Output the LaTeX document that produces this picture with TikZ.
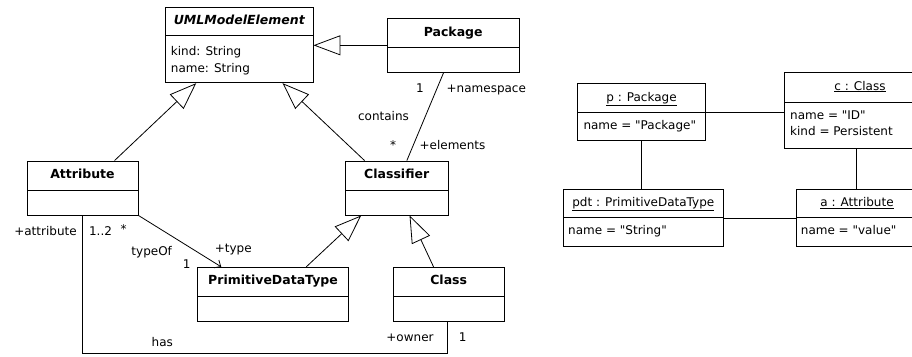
\documentclass[tikz,border=0pt]{standalone}
\usepackage{fontspec}
\setmainfont{DejaVu Sans}[Ligatures=TeXOff]
\usetikzlibrary{arrows.meta,fit,calc}

\tikzset{
  box/.style={draw, line width=0.9pt, inner sep=0pt},
  divider/.style={line width=0.9pt},
  ttl/.style={font=\fontsize{12.5}{15}\selectfont\bfseries, text height=9pt, text depth=3pt, inner sep=0pt},
  ttlit/.style={ttl, font=\fontsize{12.5}{15}\selectfont\bfseries\itshape},
  otl/.style={font=\fontsize{12}{14}\selectfont, text height=9pt, text depth=3pt, inner sep=0pt},
  lbl/.style={font=\fontsize{12}{14}\selectfont, text height=9pt, text depth=3pt, inner sep=0pt},
  gen/.style={line width=0.8pt, -{Triangle[open, length=27pt, width=20pt]}},
  assoc/.style={line width=0.8pt},
  nav/.style={assoc, -{Straight Barb[length=5pt, width=9pt]}},
}

\begin{document}
\begin{tikzpicture}[x=1pt, y=-1pt]
\useasboundingbox (0,0) rectangle (912,356);
\clip (0,0) rectangle (912,356);

% ---------------- class diagram ----------------
% UMLModelElement
\node[box, fit={(165.7,7.7) (313,82.7)}] (uml) {};
\draw[divider] (165.7,35) -- (313,35);
\node[ttlit] (umlT) at (239.3,21.3) {UMLModelElement};
\node[lbl, anchor=west] (umlA1) at (170.7,52) {kind: String};
\node[lbl, anchor=west] (umlA2) at (170.7,69) {name: String};

% Package
\node[box, fit={(387.3,18.3) (519,72.3)}] (pkg) {};
\draw[divider] (387.3,47.7) -- (519,47.7);
\node[ttl] (pkgT) at (453.2,33) {Package};

% Attribute
\node[box, fit={(27,161) (138,215)}] (attr) {};
\draw[divider] (27,190) -- (138,190);
\node[ttl] (attrT) at (82.5,175.5) {Attribute};

% Classifier
\node[box, fit={(345,161) (448.3,215)}] (cls) {};
\draw[divider] (345,190) -- (448.3,190);
\node[ttl] (clsT) at (396.7,175.5) {Classifier};

% PrimitiveDataType
\node[box, fit={(197.7,267.3) (348.3,321)}] (pdt) {};
\draw[divider] (197.7,296) -- (348.3,296);
\node[ttl] (pdtT) at (273,281.7) {PrimitiveDataType};

% Class
\node[box, fit={(393.3,267.3) (504,321)}] (cla) {};
\draw[divider] (393.3,296) -- (504,296);
\node[ttl] (claT) at (448.7,281.7) {Class};

% generalisations
\draw[gen] ([xshift=88pt]attr.north west) -- ([xshift=31pt]uml.south west);
\draw[gen] ([xshift=20pt]cls.north west) -- ([xshift=117.3pt]uml.south west);
\draw[gen] (pkg.west) -- (pkg.west -| uml.east);
\draw[gen] ([xshift=109pt]pdt.north west) -- ([xshift=16.7pt]cls.south west);
\draw[gen] ([xshift=40.7pt]cla.north west) -- ([xshift=65pt]cls.south west);

% associations
\draw[assoc] ([xshift=56.7pt]pkg.south west) -- ([xshift=62.3pt]cls.north west);
\draw[nav] (attr.south east) -- ([xshift=24pt]pdt.north west);
\draw[assoc] ([xshift=56.3pt]attr.south west) -- ++(0,138.3) -| ([xshift=55pt]cla.south west);

% association labels
\node[lbl] (nsMul)   at (420,89)    {1};
\node[lbl] (nsRole)  at (486.3,89)  {+namespace};
\node[lbl] (contain) at (383.5,117) {contains};
\node[lbl] (elMul)   at (393,146)   {*};
\node[lbl] (elRole)  at (452.5,146) {+elements};

\node[lbl] (atRole)  at (45.5,232)  {+attribute};
\node[lbl] (atMul)   at (100.5,232) {1..2};
\node[lbl] (tyStar)  at (123.5,230) {*};
\node[lbl] (typeOf)  at (151.7,252.7) {typeOf};
\node[lbl] (tyMul)   at (186.7,265) {1};
\node[lbl] (tyRole)  at (233.3,249) {+type};

\node[lbl] (hasL)    at (162.3,343.3) {has};
\node[lbl] (owRole)  at (410,338)   {+owner};
\node[lbl] (owMul)   at (462.7,338) {1};

% ---------------- object diagram ----------------
% p : Package
\node[box, fit={(577.3,83.3) (705.7,140.7)}] (op) {};
\draw[divider] (577.3,112.3) -- (705.7,112.3);
\node[otl] (opT) at (641.5,98) {\underline{p : Package}};
\node[lbl, anchor=west] (opA) at (583.3,126.7) {name = "Package"};

% c : Class
\node[box, fit={(784,72.7) (936,148.3)}] (oc) {};
\draw[divider] (784,102.3) -- (936,102.3);
\node[otl] (ocT) at (860,87) {\underline{c : Class}};
\node[lbl, anchor=west] (ocA1) at (790,116.7) {name = "ID"};
\node[lbl, anchor=west] (ocA2) at (790,132.7) {kind = Persistent};

% pdt : PrimitiveDataType
\node[box, fit={(563.3,189.3) (723.3,246.7)}] (opdt) {};
\draw[divider] (563.3,217.3) -- (723.3,217.3);
\node[otl] (opdtT) at (643.3,203.3) {\underline{pdt : PrimitiveDataType}};
\node[lbl, anchor=west] (opdtA) at (568,231.7) {name = "String"};

% a : Attribute
\node[box, fit={(796,189.3) (918,246.7)}] (oa) {};
\draw[divider] (796,217.3) -- (918,217.3);
\node[otl] (oaT) at (857,203.3) {\underline{a : Attribute}};
\node[lbl, anchor=west] (oaA) at (800.7,231.7) {name = "value"};

% links
\draw[assoc] (op.east) -- (op.east -| oc.west);
\draw[assoc] (op.south) -- (op.south |- opdt.north);
\draw[assoc] ([xshift=72.7pt]oc.south west) -- ([xshift=60.7pt]oa.north west);
\draw[assoc] (opdt.east) -- (opdt.east -| oa.west);
\end{tikzpicture}
\end{document}
